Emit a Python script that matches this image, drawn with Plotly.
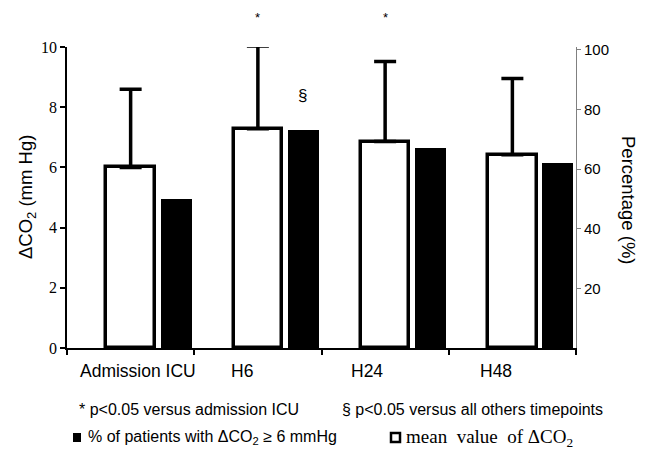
import plotly.graph_objects as go

categories = ["Admission ICU", "H6", "H24", "H48"]
mean_dco2 = [6.0, 7.28, 6.86, 6.42]
sd_dco2 = [2.6, 2.75, 2.66, 2.53]
pct_high = [50, 73, 67, 62]
left_ticks = [0, 2, 4, 6, 8, 10]
right_ticks = [20, 40, 60, 80, 100]

xs = list(range(len(categories)))

SANS = "Liberation Sans"
SERIF = "Liberation Serif"

# plot area in pixels
L, R, T, B = 67, 576, 47, 348
W, H = R - L, B - T


def px(xp):
    return (xp - L) / W


def py(yp):
    return (B - yp) / H


fig = go.Figure()
fig.add_trace(go.Bar(
    x=xs, y=mean_dco2, offset=-0.19, width=0.38,
    marker=dict(color="white", line=dict(color="black", width=3.5)),
    error_y=dict(type="data", array=sd_dco2, arrayminus=[0] * len(xs), symmetric=False,
                 color="black", thickness=3.5, width=11),
    showlegend=False, name="mean value of ΔCO2",
))
fig.add_trace(go.Bar(
    x=xs, y=pct_high, offset=0.235, width=0.245, yaxis="y2",
    marker=dict(color="black", line=dict(width=0)),
    showlegend=False, name="% of patients",
))

annotations = []
label_px = [138, 242, 367, 496]
for lab, xp in zip(categories, label_px):
    annotations.append(dict(text=lab, xref="paper", yref="paper", x=px(xp), y=py(371),
                            xanchor="center", yanchor="middle", showarrow=False,
                            font=dict(family=SANS, size=17.5, color="black")))
# significance markers
for cx in [1, 2]:
    annotations.append(dict(text="*", x=cx, y=py(17), xref="x", yref="paper", showarrow=False,
                            xanchor="center", yanchor="middle",
                            font=dict(family=SANS, size=13, color="black")))
annotations.append(dict(text="§", x=1.35, y=py(96), xref="x", yref="paper", showarrow=False,
                        xanchor="center", yanchor="middle",
                        font=dict(family=SANS, size=17, color="black")))
# footnotes
annotations.append(dict(text="* p<0.05 versus admission ICU", xref="paper", yref="paper",
                        x=px(77), y=py(409), xanchor="left", yanchor="middle",
                        showarrow=False, font=dict(family=SANS, size=16, color="black")))
annotations.append(dict(text="§ p<0.05 versus all others timepoints", xref="paper", yref="paper",
                        x=px(340), y=py(409), xanchor="left", yanchor="middle",
                        showarrow=False, font=dict(family=SANS, size=16, color="black")))
annotations.append(dict(text="% of patients with ΔCO<sub>2</sub> ≥ 6 mmHg", xref="paper", yref="paper",
                        x=px(86), y=py(437), xanchor="left", yanchor="middle",
                        showarrow=False, font=dict(family=SANS, size=16, color="black")))
annotations.append(dict(text="mean  value  of ΔCO<sub>2</sub>", xref="paper", yref="paper",
                        x=px(404), y=py(438), xanchor="left", yanchor="middle",
                        showarrow=False, font=dict(family=SERIF, size=19, color="black")))
# axis titles
annotations.append(dict(text="ΔCO<sub>2</sub> (mm Hg)", xref="paper", yref="paper",
                        x=px(27), y=py(197), xanchor="center", yanchor="middle",
                        textangle=-90, showarrow=False, font=dict(family=SANS, size=18.5, color="black")))
annotations.append(dict(text="Percentage (%)", xref="paper", yref="paper",
                        x=px(629), y=py(200), xanchor="center", yanchor="middle",
                        textangle=90, showarrow=False, font=dict(family=SANS, size=18.5, color="black")))

shapes = [
    dict(type="rect", xref="paper", yref="paper",
         x0=px(73), x1=px(81), y0=py(442), y1=py(433),
         fillcolor="black", line=dict(width=0)),
    dict(type="rect", xref="paper", yref="paper",
         x0=px(391), x1=px(400), y0=py(442), y1=py(433),
         fillcolor="white", line=dict(color="black", width=2.5)),
]

fig.update_layout(
    width=646, height=452,
    margin=dict(l=L, r=646 - R, t=T, b=452 - B),
    paper_bgcolor="white", plot_bgcolor="white",
    barmode="overlay", bargap=0,
    xaxis=dict(range=[-0.5, 3.5], tickvals=[-0.5, 0.5, 1.5, 2.5, 3.5], showticklabels=False,
               ticks="outside", ticklen=5, tickwidth=1.5, tickcolor="black",
               showline=True, linecolor="black", linewidth=1.5, showgrid=False, zeroline=False),
    yaxis=dict(range=[0, 10], tickvals=left_ticks, ticks="outside", ticklen=5, tickwidth=1.5,
               tickcolor="black", showline=True, linecolor="black", linewidth=1.5,
               showgrid=False, zeroline=False,
               tickfont=dict(family=SERIF, size=16, color="black")),
    yaxis2=dict(range=[0, 101], tickvals=right_ticks, overlaying="y", side="right",
                ticks="outside", ticklen=4, tickwidth=1, tickcolor="#808080",
                showline=True, linecolor="#808080", linewidth=1, showgrid=False, zeroline=False,
                tickfont=dict(family=SANS, size=15, color="black")),
    annotations=annotations, shapes=shapes,
)

fig.write_html("out.html", config={"displayModeBar": False},
               post_script="document.body.style.margin='0px';document.body.style.padding='0px';")
